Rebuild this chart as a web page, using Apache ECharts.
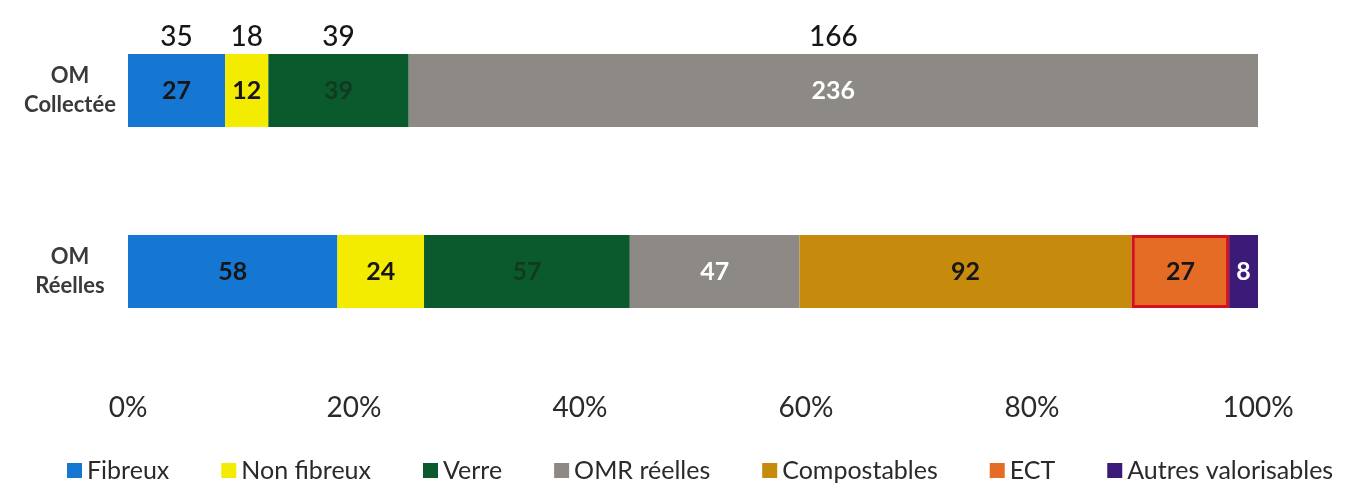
<!DOCTYPE html>
<html>
<head>
<meta charset="utf-8">
<script src="https://cdn.jsdelivr.net/npm/echarts@6/dist/echarts.min.js"></script>
<style>
  html, body { margin: 0; padding: 0; background: #fff; }
  #main { width: 1349px; height: 489px; }
</style>
</head>
<body>
<div id="main"></div>
<script>
// catégories (axe vertical)
var categories = ['OM\nCollectée', 'OM\nRéelles'];
var seriesNames = ['Fibreux', 'Non fibreux', 'Verre', 'OMR réelles', 'Compostables', 'ECT', 'Autres valorisables'];
var colors = ['#1677d2', '#f4ec00', '#0a5a2e', '#8d8984', '#c68b0c', '#e46c25', '#3b1a78'];
var labelColors = ['#161616', '#161616', '#113a1f', '#ffffff', '#161616', '#161616', '#ffffff'];

// valeurs brutes par ligne
var collectee = [27, 12, 39, 236, 0, 0, 0];
var reelles = [58, 24, 57, 47, 92, 27, 8];
// valeurs affichées au-dessus de la barre "OM Collectée"
var aboveCollectee = [35, 18, 39, 166];
var xTicks = [0, 20, 40, 60, 80, 100];

function sum(arr) {
  var s = 0;
  for (var i = 0; i < arr.length; i++) s += arr[i];
  return s;
}
var totC = sum(collectee), totR = sum(reelles);

var font = 'Lato, "Open Sans", sans-serif';
var series = [];
for (var i = 0; i < seriesNames.length; i++) {
  var rawC = collectee[i], rawR = reelles[i];
  var dC = rawC ? { value: rawC / totC * 100, raw: rawC } : { value: 0, raw: 0 };
  var dR = { value: rawR / totR * 100, raw: rawR };
  if (seriesNames[i] === 'ECT') {
    //encadré rouge
    dR.itemStyle = { borderColor: '#d5101f', borderWidth: 3 };
  }
  series.push({
    name: seriesNames[i],
    type: 'bar',
    stack: 'a',
    barWidth: 73,
    barGap: '-100%',
    itemStyle: { color: colors[i] },
    label: {
      show: true,
      position: 'inside',
      fontFamily: font,
      fontSize: 25,
      fontWeight: 'bold',
      color: labelColors[i],
      formatter: function (p) { return p.data.raw ? p.data.raw : ''; }
    },
    emphasis: { disabled: true },
    data: [dC, dR]
  });
}
// série transparente pour les valeurs au-dessus
for (var j = 0; j < aboveCollectee.length; j++) {
  series.push({
    name: 'above' + j,
    type: 'bar',
    stack: 'b',
    barWidth: 73,
    barGap: '-100%',
    itemStyle: { color: 'rgba(0,0,0,0)' },
    label: {
      show: true,
      position: 'top',
      distance: 3,
      fontFamily: font,
      fontSize: 28,
      fontWeight: 500,
      color: '#161616',
      formatter: String(aboveCollectee[j])
    },
    emphasis: { disabled: true },
    silent: true,
    data: [collectee[j] / totC * 100, '-']
  });
}

var myChart = echarts.init(document.getElementById('main'));
var option = {
  backgroundColor: '#ffffff',
  animation: false,
  grid: { left: 128, right: 91, top: 0, height: 362 },
  legend: {
    data: seriesNames,
    bottom: 1,
    left: 62,
    itemWidth: 15,
    itemHeight: 15,
    itemGap: 52,
    icon: 'rect',
    textStyle: { fontFamily: font, fontSize: 25, color: '#2a2a2a' }
  },
  xAxis: {
    type: 'value',
    min: 0,
    max: 100,
    interval: 20,
    axisLine: { show: false },
    axisTick: { show: false },
    splitLine: { show: false },
    axisLabel: {
      fontFamily: font,
      fontSize: 28,
      color: '#2a2a2a',
      margin: 32,
      formatter: function (v) { return xTicks.indexOf(v) >= 0 ? v + '%' : ''; }
    }
  },
  yAxis: {
    type: 'category',
    inverse: true,
    data: categories,
    axisLine: { show: false },
    axisTick: { show: false },
    axisLabel: {
      fontFamily: font,
      fontSize: 22,
      fontWeight: 'bold',
      color: '#3a3a3a',
      lineHeight: 29,
      align: 'center',
      margin: 58
    }
  },
  series: series
};
myChart.setOption(option);
</script>
</body>
</html>
